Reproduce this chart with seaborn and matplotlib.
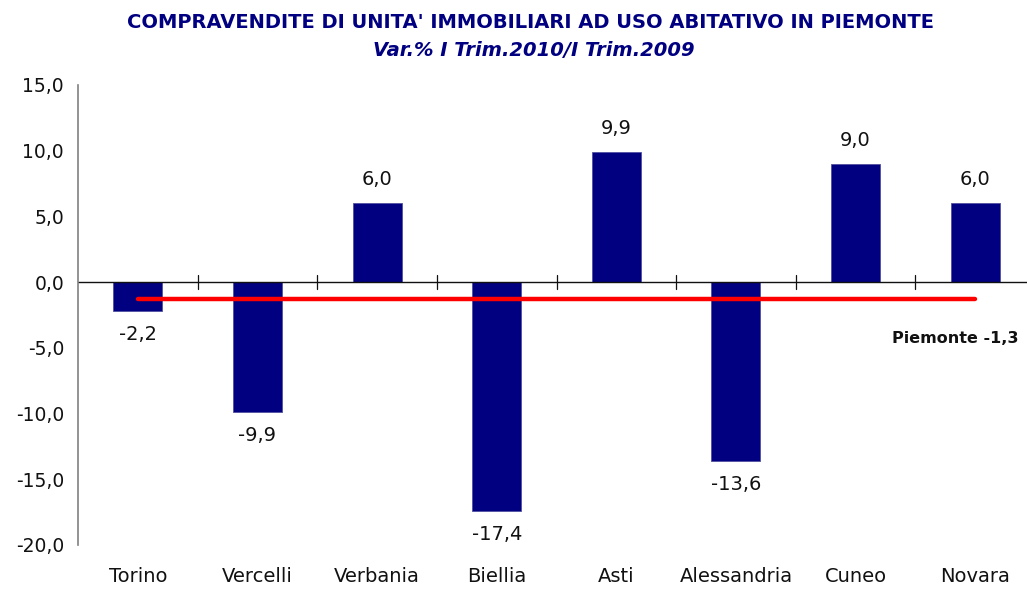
import matplotlib
matplotlib.use("Agg")
import matplotlib.pyplot as plt
import seaborn as sns
import pandas as pd

# Data
provinces = ["Torino", "Vercelli", "Verbania", "Biellia", "Asti", "Alessandria", "Cuneo", "Novara"]
var_pct = [-2.2, -9.9, 6.0, -17.4, 9.9, -13.6, 9.0, 6.0]
piemonte = -1.3
y_ticks = [-20, -15, -10, -5, 0, 5, 10, 15]


def fmt(v):
    return f"{v:.1f}".replace(".", ",")


def main():
    sns.set_style("white")
    plt.rcParams["font.family"] = ["DejaVu Sans"]

    df = pd.DataFrame({"provincia": provinces, "var": var_pct})

    fig = plt.figure(figsize=(10.27, 5.9), dpi=100)
    ax = fig.add_axes([78 / 1027, 45 / 590, 957 / 1027, 460 / 590])

    sns.barplot(data=df, x="provincia", y="var", color="#000080", saturation=1,
                width=0.41, ax=ax, edgecolor="#5050a0", linewidth=0.6)

    # regional average line
    ax.plot([0, len(provinces) - 1], [piemonte, piemonte], color="#ff0000",
            lw=3.2, solid_capstyle="round", zorder=5)
    ax.text(len(provinces) - 1 + 0.36, piemonte - 3.0, f"Piemonte {fmt(piemonte)}",
            ha="right", va="center", fontsize=11.5, fontweight="bold", color="#111111")

    # value labels
    for i, v in enumerate(var_pct):
        off = 1.8 if v >= 0 else -1.8
        ax.text(i, v + off, fmt(v), ha="center", va="center", fontsize=14, color="#111111")

    ax.set_xlim(-0.5, len(provinces) - 0.5)
    ax.set_ylim(-20, 15)
    ax.set_yticks(y_ticks)
    ax.set_yticklabels([fmt(t) for t in y_ticks], fontsize=13.5, color="#111111")
    ax.set_xlabel("")
    ax.set_ylabel("")

    for s in ["top", "right", "bottom"]:
        ax.spines[s].set_visible(False)
    ax.spines["left"].set_color("#808080")
    ax.spines["left"].set_linewidth(1.2)
    ax.tick_params(axis="y", direction="inout", length=12, width=1, color="#111111", pad=4)

    # horizontal zero axis with separator ticks between categories
    ax.axhline(0, color="#111111", lw=1, zorder=1)
    for k in range(len(provinces) - 1):
        ax.plot([k + 0.5, k + 0.5], [-0.55, 0.55], color="#111111", lw=0.9, zorder=1)

    ax.set_xticks(range(len(provinces)))
    ax.set_xticklabels(provinces, fontsize=14, color="#111111")
    ax.tick_params(axis="x", length=0, pad=16)

    fig.text(0.517, 0.962, "COMPRAVENDITE DI UNITA' IMMOBILIARI AD USO ABITATIVO IN PIEMONTE",
             ha="center", va="center", fontsize=14, fontweight="bold", color="#000080")
    fig.text(0.52, 0.914, "Var.% I Trim.2010/I Trim.2009", ha="center", va="center",
             fontsize=14, fontweight="bold", fontstyle="italic", color="#000080")

    fig.savefig("out.png", dpi=100)


if __name__ == "__main__":
    main()
